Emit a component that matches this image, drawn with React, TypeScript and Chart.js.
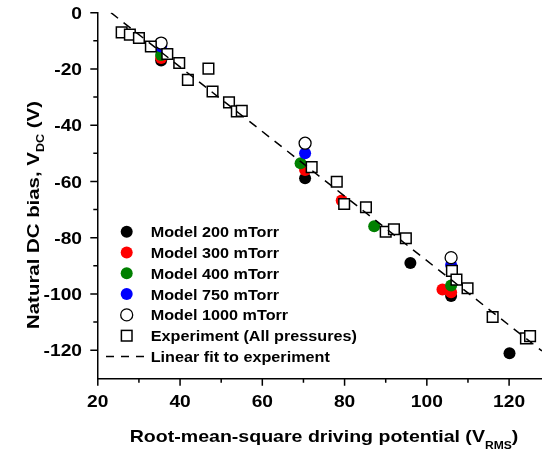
import React, { useEffect, useRef } from 'react';
import { Chart, registerables } from 'chart.js';

Chart.register(...registerables);

const FONT = '"Liberation Sans", Arial, Helvetica, sans-serif';

// Experiment (all pressures)
const expX = [25.8, 27.8, 30.0, 32.9, 36.9, 39.8, 41.9, 46.9, 47.9, 51.9, 53.8, 55.0, 72.0, 78.1, 79.9, 85.2, 90.0, 92.0, 94.9, 106.1, 107.2, 109.9, 116.0, 124.1, 125.1];
const expY = [-7.0, -7.8, -9.0, -12.0, -14.7, -17.9, -23.9, -19.9, -28.0, -31.9, -35.1, -34.9, -54.9, -60.1, -68.0, -69.2, -77.9, -77.0, -80.2, -91.8, -94.9, -98.0, -108.2, -115.8, -115.0];

// Model series
const m200X = [35.4, 70.4, 96.0, 105.9, 120.1];
const m200Y = [-17.0, -58.9, -89.0, -100.7, -121.1];
const m300X = [35.4, 70.4, 79.3, 103.8, 105.9];
const m300Y = [-16.1, -55.9, -66.8, -98.4, -99.4];
const m400X = [35.4, 69.3, 87.2, 105.9];
const m400Y = [-15.0, -53.5, -75.9, -97.0];
const m750X = [35.4, 70.4, 105.9];
const m750Y = [-12.0, -50.0, -89.7];
const m1000X = [35.4, 70.4, 105.9];
const m1000Y = [-10.8, -46.4, -87.1];

// Linear fit endpoints
const fitX = [23.2, 128];
const fitY = [0.0, -120.3];

const xMajor = [20, 40, 60, 80, 100, 120];
const xMinor = [30, 50, 70, 90, 110];
const yMajor = [0, -20, -40, -60, -80, -100, -120];
const yMinor = [-10, -30, -50, -70, -90, -110];

const legendLabels = [
  'Model 200 mTorr',
  'Model 300 mTorr',
  'Model 400 mTorr',
  'Model 750 mTorr',
  'Model 1000 mTorr',
  'Experiment (All pressures)',
  'Linear fit to experiment',
];
const modelColors = ['#000000', '#ff0000', '#008000', '#0000ff', '#ffffff'];

const zip = (xs: number[], ys: number[]) => xs.map((x, i) => ({ x, y: ys[i] }));

// Plot-area frame (canvas pixels)
const AREA = { left: 97.8, right: 542, top: 12.7, bottom: 378.3 };

const fixArea = {
  id: 'fixArea',
  afterLayout(chart: any) {
    const ca = chart.chartArea;
    ca.left = AREA.left;
    ca.right = AREA.right;
    ca.top = AREA.top;
    ca.bottom = AREA.bottom;
    ca.width = AREA.right - AREA.left;
    ca.height = AREA.bottom - AREA.top;
    const x = chart.scales.x;
    x.left = AREA.left;
    x.right = AREA.right;
    x.width = AREA.right - AREA.left;
    x.top = AREA.bottom;
    x.bottom = 455;
    x.height = 455 - AREA.bottom;
    x.configure();
    const y = chart.scales.y;
    y.left = 0;
    y.right = AREA.left;
    y.width = AREA.left;
    y.top = AREA.top;
    y.bottom = AREA.bottom;
    y.height = AREA.bottom - AREA.top;
    y.configure();
  },
};

type Part = [string, number, number];

// Draw a run of text parts (main text + subscripts), stretched horizontally by sx
function drawParts(ctx: CanvasRenderingContext2D, parts: Part[], sx: number) {
  let w = 0;
  parts.forEach(([t, size]) => {
    ctx.font = `bold ${size}px ${FONT}`;
    w += ctx.measureText(t).width;
  });
  ctx.scale(sx, 1);
  let x = -w / 2;
  parts.forEach(([t, size, dy]) => {
    ctx.font = `bold ${size}px ${FONT}`;
    ctx.fillText(t, x, dy);
    x += ctx.measureText(t).width;
  });
}

function drawStretched(
  ctx: CanvasRenderingContext2D,
  text: string,
  x: number,
  y: number,
  size: number,
  align: CanvasTextAlign,
  sx: number,
) {
  ctx.save();
  ctx.translate(x, y);
  ctx.scale(sx, 1);
  ctx.font = `bold ${size}px ${FONT}`;
  ctx.textAlign = align;
  ctx.fillText(text, 0, 0);
  ctx.restore();
}

const decor = {
  id: 'decor',
  afterDraw(chart: any) {
    const ctx: CanvasRenderingContext2D = chart.ctx;
    const xs = chart.scales.x;
    const ys = chart.scales.y;
    const { left, bottom } = chart.chartArea;
    ctx.save();
    ctx.strokeStyle = '#000';
    ctx.lineWidth = 1.5;
    ctx.beginPath();
    yMajor.forEach((v) => {
      const p = ys.getPixelForValue(v);
      ctx.moveTo(left - 7.5, p);
      ctx.lineTo(left, p);
    });
    yMinor.forEach((v) => {
      const p = ys.getPixelForValue(v);
      ctx.moveTo(left - 4.5, p);
      ctx.lineTo(left, p);
    });
    xMajor.forEach((v) => {
      const p = xs.getPixelForValue(v);
      ctx.moveTo(p, bottom);
      ctx.lineTo(p, bottom + 7.5);
    });
    xMinor.forEach((v) => {
      const p = xs.getPixelForValue(v);
      ctx.moveTo(p, bottom);
      ctx.lineTo(p, bottom + 4.5);
    });
    ctx.stroke();

    ctx.fillStyle = '#000';
    ctx.textBaseline = 'alphabetic';

    // Tick labels
    yMajor.forEach((v) => {
      const p = ys.getPixelForValue(v);
      drawStretched(ctx, String(v), 82, p + 6.1, 17, 'right', 1.13);
    });
    xMajor.forEach((v) => {
      const p = xs.getPixelForValue(v);
      drawStretched(ctx, String(v), p, 406.5, 17, 'center', 1.13);
    });

    // X title
    ctx.save();
    ctx.translate(324, 441.5);
    ctx.textAlign = 'left';
    drawParts(
      ctx,
      [
        ['Root-mean-square driving potential (V', 17, 0],
        ['RMS', 10.5, 7],
        [')', 17, 0],
      ],
      1.15,
    );
    ctx.restore();

    // Y title (rotated)
    ctx.save();
    ctx.translate(38.5, 215);
    ctx.rotate(-Math.PI / 2);
    ctx.textAlign = 'left';
    drawParts(
      ctx,
      [
        ['Natural DC bias, V', 17, 0],
        ['DC', 10.5, 5],
        [' (V)', 17, 0],
      ],
      1.2,
    );
    ctx.restore();

    // Legend
    const rowY0 = 231.7;
    const rowStep = 20.8;
    const mx = 126.7;
    const tx = 150.7;
    ctx.textBaseline = 'alphabetic';
    legendLabels.forEach((label, i) => {
      const y = rowY0 + i * rowStep;
      ctx.lineWidth = 1.5;
      ctx.strokeStyle = '#000';
      if (i < 5) {
        ctx.beginPath();
        ctx.arc(mx, y, 6, 0, Math.PI * 2);
        ctx.fillStyle = modelColors[i];
        ctx.fill();
        if (i === 4) {
          ctx.lineWidth = 1.3;
          ctx.stroke();
        }
      } else if (i === 5) {
        ctx.fillStyle = '#fff';
        ctx.fillRect(mx - 5.3, y - 5.3, 10.6, 10.6);
        ctx.strokeRect(mx - 5.3, y - 5.3, 10.6, 10.6);
      } else {
        ctx.setLineDash([8, 7]);
        ctx.beginPath();
        ctx.moveTo(106, y);
        ctx.lineTo(145, y);
        ctx.stroke();
        ctx.setLineDash([]);
      }
      ctx.fillStyle = '#000';
      drawStretched(ctx, label, tx, y + 5.5, 15, 'left', 1.08);
    });
    ctx.restore();
  },
};

export default function App() {
  const ref = useRef<HTMLCanvasElement | null>(null);
  useEffect(() => {
    if (!ref.current) return;
    const circle = (color: string, border: string, order: number, data: any[], label: string) => ({
      label,
      data,
      order,
      backgroundColor: color,
      borderColor: border,
      borderWidth: color === '#ffffff' ? 1.3 : 0,
      pointRadius: 6,
      pointHoverRadius: 6,
      pointStyle: 'circle',
      showLine: false,
    });
    const chart = new Chart(ref.current, {
      type: 'scatter',
      data: {
        datasets: [
          {
            label: 'Linear fit to experiment',
            data: zip(fitX, fitY),
            order: 0,
            showLine: true,
            borderColor: '#000',
            borderWidth: 1.5,
            borderDash: [9, 7],
            pointRadius: 0,
            pointHoverRadius: 0,
            fill: false,
          },
          {
            label: 'Experiment (All pressures)',
            data: zip(expX, expY),
            order: 1,
            pointStyle: 'rect',
            pointRadius: 7.5,
            pointHoverRadius: 7.5,
            backgroundColor: '#ffffff',
            borderColor: '#000000',
            borderWidth: 1.5,
            showLine: false,
          },
          circle('#ffffff', '#000000', 2, zip(m1000X, m1000Y), 'Model 1000 mTorr'),
          circle('#0000ff', '#0000ff', 3, zip(m750X, m750Y), 'Model 750 mTorr'),
          circle('#008000', '#008000', 4, zip(m400X, m400Y), 'Model 400 mTorr'),
          circle('#ff0000', '#ff0000', 5, zip(m300X, m300Y), 'Model 300 mTorr'),
          circle('#000000', '#000000', 6, zip(m200X, m200Y), 'Model 200 mTorr'),
        ] as any,
      },
      options: {
        animation: false,
        responsive: false,
        devicePixelRatio: 1,
        layout: { padding: { top: 12.7, right: 0, left: 0, bottom: 0 } },
        plugins: {
          legend: { display: false },
          tooltip: { enabled: false },
          title: { display: false },
        },
        scales: {
          x: {
            type: 'linear',
            min: 20,
            max: 128,
            afterBuildTicks: (s: any) => {
              s.ticks = xMajor.map((v) => ({ value: v }));
            },
            afterFit: (s: any) => {
              s.height = 455 - AREA.bottom;
            },
            grid: { display: false, drawTicks: false },
            border: { display: true, color: '#000', width: 1.5 },
            ticks: { display: false },
          },
          y: {
            type: 'linear',
            min: -130,
            max: 0,
            afterBuildTicks: (s: any) => {
              s.ticks = yMajor.map((v) => ({ value: v }));
            },
            afterFit: (s: any) => {
              s.width = AREA.left;
            },
            grid: { display: false, drawTicks: false },
            border: { display: true, color: '#000', width: 1.5 },
            ticks: { display: false },
          },
        },
      } as any,
      plugins: [fixArea, decor],
    });
    return () => chart.destroy();
  }, []);
  return (
    <div style={{ position: 'fixed', left: 0, top: 0, width: 542, height: 455, background: '#fff' }}>
      <canvas ref={ref} width={542} height={455} style={{ width: 542, height: 455 }} />
    </div>
  );
}
